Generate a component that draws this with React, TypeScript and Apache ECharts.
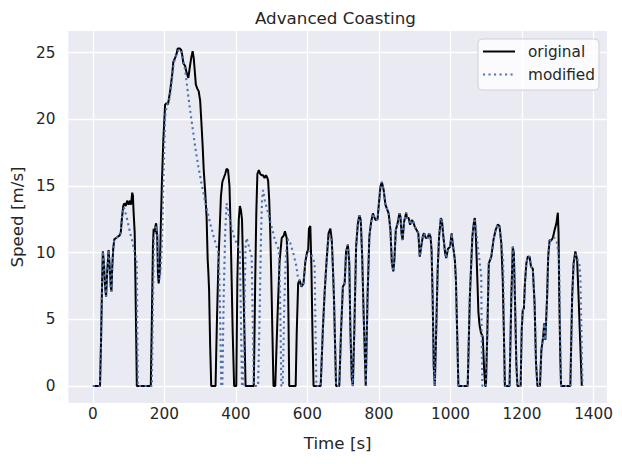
import React, { useEffect, useRef } from "react";
import * as echarts from "echarts";

const TITLE = "Advanced Coasting";
const X_NAME = "Time [s]";
const Y_NAME = "Speed [m/s]";
const X_TICKS = [0, 200, 400, 600, 800, 1000, 1200, 1400];
const Y_TICKS = [0, 5, 10, 15, 20, 25];

// [time s, speed m/s]
const originalData: number[][] = [
  [0, 0], [20, 0], [23, 3.5], [26, 8], [28, 10.1], [31, 9.2], [34, 7.5], [37, 6.7], [40, 8.5], [44, 10.2],
  [47, 9.0], [50, 7.5], [52, 7.1], [54, 8.8], [57, 10.3], [60, 11.0], [65, 11.1], [70, 11.2], [75, 11.3],
  [78, 11.5], [81, 12.5], [85, 13.5], [88, 13.7], [92, 13.5], [96, 13.9], [100, 13.6], [104, 13.9],
  [107, 13.6], [110, 14.5], [112, 14.3], [114, 13.0], [117, 11.5], [119, 8], [121, 4], [123, 0],
  [162, 0], [165, 5], [168, 10.5], [170, 11.8], [173, 11.5], [175, 12.0], [177, 12.2], [180, 11.2],
  [182, 8.5], [184, 7.7], [187, 8.5], [190, 12], [193, 15.2], [197, 18.4], [202, 21.1], [206, 21.2],
  [210, 21.1], [216, 22.1], [222, 23.4], [225, 24.3], [230, 24.6], [234, 24.9], [237, 25.3], [243, 25.3],
  [247, 25.2], [250, 24.8], [253, 24.2], [258, 24.0], [262, 23.5], [267, 23.1], [271, 23.9], [275, 24.6],
  [279, 25.1], [282, 24.6], [285, 23.6], [288, 22.6], [292, 22.3], [296, 22.1], [300, 21.4], [303, 20.0],
  [307, 18.0], [310, 16.2], [314, 14.6], [318, 12.7], [321, 9.5], [323, 8.5], [325, 7.2], [328, 3], [331, 0],
  [343, 0], [347, 5], [351, 9.2], [355, 12], [358, 14.2], [362, 15.3], [366, 15.6], [370, 15.9], [374, 16.3],
  [378, 16.2], [382, 15], [385, 12], [388, 8], [391, 4], [395, 0], [401, 0], [404, 8], [408, 12.5],
  [411, 13.5], [414, 13.2], [417, 12.5], [420, 9], [423, 5], [427, 0],
  [450, 0], [454, 8], [457, 13], [460, 15.9], [464, 16.2], [468, 15.9], [472, 15.8], [476, 15.8], [480, 15.6],
  [484, 15.8], [488, 15.6], [490, 15.4], [493, 14], [496, 11.5], [499, 8], [502, 4], [505, 0],
  [510, 0], [516, 5], [522, 9.3], [528, 11.1], [534, 11.3], [537, 11.6], [542, 11.1], [545, 9], [547, 5], [549, 0],
  [567, 0], [570, 4], [574, 7.7], [578, 7.95], [583, 7.45], [589, 7.7], [594, 9.3], [599, 10.05], [602, 10.2],
  [604, 11.8], [608, 12.0], [611, 9], [614, 4], [617, 0],
  [637, 0], [643, 4.2], [648, 7], [653, 9.2], [659, 11.45], [664, 11.8], [668, 10.95], [671, 9], [674, 6.7], [680, 0],
  [689, 0], [694, 4.2], [699, 7.45], [704, 7.7], [708, 10.1], [713, 10.6], [717, 9.2], [720, 4.2], [724, 0.5],
  [727, 0], [731, 4.2], [736, 10.45], [741, 12.2], [745, 12.8], [749, 12.45], [753, 9.7], [757, 5.45], [763, 0],
  [768, 6.7], [773, 11.2], [778, 12.3], [783, 12.95], [790, 12.45], [796, 12.5], [799, 13.45], [804, 14.95],
  [808, 15.3], [813, 14.7], [818, 13.6], [822, 13.3], [827, 12.95], [832, 11.7], [836, 9.2], [840, 8.6],
  [843, 9.45], [847, 11.7], [852, 12.2], [857, 12.95], [860, 12.7], [863, 11.45], [866, 10.95], [870, 12.3],
  [876, 13.0], [878, 12.6], [883, 12.6], [887, 12.1], [892, 12.45], [896, 12.3], [900, 11.95], [905, 11.7],
  [910, 11.45], [914, 9.7], [918, 10.45], [923, 11.3], [926, 11.45], [931, 11.1], [936, 11.1], [940, 11.45],
  [944, 11.2], [947, 10.2], [950, 6.7], [953, 1.5], [956, 0],
  [960, 4.2], [964, 8.7], [968, 11.2], [973, 12.6], [976, 12.4], [980, 11.2], [985, 9.95], [988, 9.6],
  [993, 10.3], [999, 10.45], [1003, 11.45], [1007, 10.5], [1012, 9.5], [1015, 8], [1019, 3.5], [1022, 0],
  [1048, 0], [1054, 6.7], [1061, 11.2], [1066, 12.45], [1068, 12.6], [1071, 11.2], [1075, 8], [1078, 5.5],
  [1081, 4.6], [1085, 4.0], [1090, 3.7], [1094, 1.2], [1097, 0],
  [1099, 0], [1103, 4.2], [1107, 9.2], [1114, 9.7], [1120, 10.95], [1126, 11.7], [1132, 12.1], [1137, 12.0],
  [1142, 10.7], [1146, 7.95], [1149, 4.2], [1152, 0],
  [1165, 0], [1170, 6.7], [1174, 10.45], [1177, 9.95], [1180, 6.7], [1184, 1.7], [1187, 0],
  [1196, 0], [1199, 4.2], [1202, 5.7], [1205, 5.8], [1208, 7.7], [1212, 9.2], [1216, 9.7], [1221, 9.7],
  [1225, 8.95], [1230, 8.8], [1235, 6.2], [1239, 1.7], [1243, 0],
  [1250, 0], [1254, 2.7], [1259, 3.7], [1262, 4.7], [1265, 3.45], [1270, 6.7], [1273, 9.7], [1277, 10.95],
  [1281, 10.9], [1286, 11.1], [1291, 11.7], [1296, 12.2], [1298, 12.6], [1300, 13.0], [1302, 11.5],
  [1304, 6.7], [1307, 2], [1309, 0],
  [1335, 0], [1340, 6.7], [1344, 9.2], [1349, 10.1], [1354, 9.45], [1358, 6.7], [1363, 2.95], [1367, 0],
];

const modifiedData: number[][] = [
  [0, 0], [20, 0], [23, 3.5], [26, 8], [28, 10.1], [31, 9.2], [34, 7.5], [37, 6.7], [40, 8.5], [44, 10.2],
  [47, 9.0], [50, 7.5], [52, 7.1], [54, 8.8], [57, 10.3], [60, 11.0], [65, 11.1], [70, 11.2], [75, 11.3],
  [78, 11.5], [81, 12.5], [85, 13.4], [88, 13.3], [95, 12.6], [100, 12.0], [105, 11.4], [110, 10.9],
  [117, 10.0], [123, 9.2], [124, 5], [126, 0],
  [165, 0], [168, 6], [171, 11.2], [174, 11.5], [177, 12.0], [180, 11.5], [183, 9], [186, 8.0], [189, 8.5],
  [192, 10.0], [195, 12.5], [198, 16], [202, 20.2], [207, 21.1], [212, 21.2], [217, 22.0], [222, 23.2],
  [226, 24.2], [231, 24.6], [236, 25.0], [240, 25.2], [247, 25.2], [258, 23.7], [267, 21.7], [277, 19.7],
  [286, 17.95], [295, 16.45], [303, 15.3], [315, 13.7], [328, 12.2], [338, 11.2], [346, 10.45], [352, 9.9],
  [356, 5], [359, 0],
  [362, 0], [366, 7], [370, 11.5], [374, 13.7], [383, 12.45], [392, 11.4], [402, 10.7], [411, 10.0],
  [414, 5], [417, 0], [421, 0], [424, 6], [427, 10.5], [430, 11.1], [437, 10.4], [444, 9.7], [447, 5], [450, 0],
  [462, 0], [466, 5], [470, 11], [473, 14], [476, 14.7], [481, 13.9], [495, 12.45], [509, 10.95], [520, 10.2],
  [524, 6], [527, 0], [531, 0], [535, 6], [540, 10], [546, 11], [550, 10.9], [560, 10], [569, 9.0],
  [574, 8.0], [578, 7.95], [583, 7.45], [589, 7.7], [594, 9.3], [599, 10.05], [604, 10.1], [612, 9.8],
  [620, 9.2], [622, 5], [625, 0],
  [637, 0], [643, 4.2], [648, 7], [653, 9.2], [659, 11.2], [664, 11.3], [668, 10.8], [671, 9], [674, 6.7], [680, 0],
  [689, 0], [694, 4.2], [699, 7.45], [704, 7.7], [708, 10.1], [713, 10.6], [717, 9.2], [720, 4.2], [724, 0.5],
  [727, 0], [731, 4.2], [736, 10.45], [741, 12.2], [745, 12.8], [749, 12.45], [753, 9.7], [757, 5.45], [763, 0],
  [768, 6.7], [773, 11.2], [778, 12.3], [783, 12.95], [790, 12.45], [796, 12.5], [799, 13.45], [804, 14.95],
  [808, 15.3], [813, 14.7], [818, 13.6], [822, 13.3], [827, 12.95], [832, 11.7], [836, 9.2], [840, 8.6],
  [843, 9.45], [847, 11.7], [852, 12.2], [857, 12.95], [860, 12.7], [863, 11.45], [866, 10.95], [870, 12.3],
  [876, 13.0], [878, 12.6], [883, 12.6], [887, 12.1], [892, 12.45], [896, 12.3], [900, 11.95], [905, 11.7],
  [910, 11.45], [914, 9.7], [918, 10.45], [923, 11.3], [926, 11.45], [931, 11.1], [936, 11.1], [940, 11.45],
  [944, 11.2], [947, 10.2], [950, 6.7], [953, 1.5], [956, 0],
  [960, 4.2], [964, 8.7], [968, 11.2], [973, 12.6], [976, 12.4], [980, 11.2], [985, 9.95], [988, 9.6],
  [993, 10.3], [999, 10.45], [1003, 11.45], [1007, 10.5], [1012, 9.5], [1015, 8], [1019, 3.5], [1022, 0],
  [1048, 0], [1054, 6.7], [1061, 11.2], [1066, 12.45], [1068, 12.6], [1071, 11.8], [1077, 10.3],
  [1082, 9.2], [1086, 8.2], [1087, 4], [1089, 0],
  [1099, 0], [1103, 4.2], [1107, 9.2], [1114, 9.7], [1120, 10.95], [1126, 11.7], [1132, 12.1], [1137, 12.0],
  [1142, 10.7], [1147, 9.45], [1149, 5], [1151, 0],
  [1165, 0], [1170, 6.7], [1174, 10.45], [1177, 9.95], [1180, 6.7], [1184, 1.7], [1187, 0],
  [1196, 0], [1199, 4.2], [1202, 5.7], [1205, 5.8], [1208, 7.7], [1212, 9.2], [1216, 9.7], [1221, 9.7],
  [1225, 8.95], [1230, 8.8], [1235, 6.2], [1239, 1.7], [1243, 0],
  [1250, 0], [1254, 2.7], [1259, 3.7], [1262, 4.7], [1265, 3.45], [1270, 6.7], [1273, 9.7], [1277, 10.95],
  [1281, 10.9], [1286, 11.1], [1291, 11.1], [1297, 10.8], [1303, 9.7], [1306, 5], [1309, 0],
  [1335, 0], [1340, 6.5], [1344, 9.0], [1349, 9.9], [1355, 9.5], [1360, 9.2], [1363, 8.2], [1366, 4], [1369, 0],
];

const FONT = "DejaVu Sans";
const TEXT = "#262626";

export default function App() {
  const ref = useRef<HTMLDivElement>(null);
  useEffect(() => {
    if (!ref.current) return;
    const chart = echarts.init(ref.current, undefined, { renderer: "svg" });
    chart.setOption({
      animation: false,
      backgroundColor: "#ffffff",
      title: {
        text: TITLE,
        left: 255,
        top: 9,
        padding: 0,
        textStyle: { fontFamily: FONT, fontSize: 16.7, fontWeight: "normal", color: TEXT },
      },
      legend: {
        orient: "vertical",
        left: 478,
        top: 39,
        padding: [5, 4, 8, 4],
        itemWidth: 32,
        itemHeight: 14,
        itemGap: 8,
        backgroundColor: "rgba(255,255,255,0.8)",
        borderColor: "#d0d0d6",
        borderWidth: 1,
        borderRadius: 4,
        itemStyle: { opacity: 0 },
        textStyle: { fontFamily: FONT, fontSize: 15.3, color: TEXT, padding: [0, 0, 0, 8] },
        data: ["original", "modified"],
      },
      grid: {
        left: 66,
        right: 15,
        top: 31,
        bottom: 61,
        show: true,
        backgroundColor: "#EAEAF2",
        borderWidth: 0,
      },
      xAxis: {
        type: "value",
        min: -68.45,
        max: 1437.45,
        name: X_NAME,
        nameLocation: "middle",
        nameGap: 31,
        nameTextStyle: { fontFamily: FONT, fontSize: 16.7, color: TEXT },
        axisLine: { show: false },
        axisTick: { show: false, customValues: X_TICKS },
        axisLabel: {
          customValues: X_TICKS,
          formatter: (v: number) => String(v),
          fontFamily: FONT,
          fontSize: 15.3,
          color: TEXT,
          margin: 3,
        },
        splitLine: { show: true, lineStyle: { color: "#ffffff", width: 1.3 } },
      },
      yAxis: {
        type: "value",
        min: -1.27,
        max: 26.62,
        name: Y_NAME,
        nameLocation: "middle",
        nameGap: 37,
        nameTextStyle: { fontFamily: FONT, fontSize: 16.7, color: TEXT },
        axisLine: { show: false },
        axisTick: { show: false, customValues: Y_TICKS },
        axisLabel: {
          customValues: Y_TICKS,
          formatter: (v: number) => String(v),
          fontFamily: FONT,
          fontSize: 15.3,
          color: TEXT,
          margin: 13,
        },
        splitLine: { show: true, lineStyle: { color: "#ffffff", width: 1.3 } },
      },
      series: [
        {
          name: "original",
          type: "line",
          data: originalData,
          symbol: "none",
          lineStyle: { color: "#000000", width: 2 },
          itemStyle: { color: "#000000" },
        },
        {
          name: "modified",
          type: "line",
          data: modifiedData,
          symbol: "none",
          lineStyle: { color: "#4C72B0", width: 2.1, type: [2.1, 3.4], cap: "butt" },
          itemStyle: { color: "#4C72B0" },
        },
      ],
    });
    return () => chart.dispose();
  }, []);
  return (
    <div
      ref={ref}
      style={{ position: "fixed", left: 0, top: 0, width: 622, height: 464 }}
    />
  );
}
